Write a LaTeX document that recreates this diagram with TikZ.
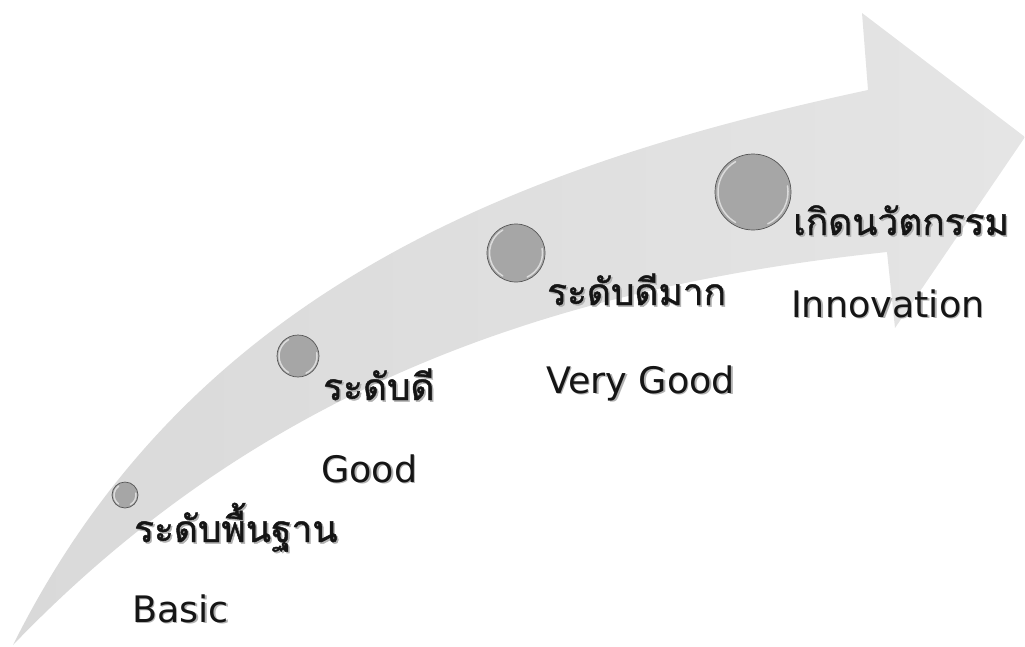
\documentclass[tikz,border=0pt]{standalone}
\usepackage{fontspec}
\setmainfont{DejaVu Sans}
\newfontfamily\thaifont[Script=Thai,FakeBold=1.2]{Loma}
\usetikzlibrary{calc}
\definecolor{arrowL}{HTML}{D9D9D9}
\definecolor{arrowR}{HTML}{E5E5E5}
\definecolor{ballfill}{HTML}{A6A6A6}
\definecolor{ballline}{HTML}{555555}
\definecolor{txt}{HTML}{151515}
\newcommand\shd[1]{\makebox[0pt][l]{\hspace*{1.6pt}\raisebox{-1.6pt}{\textcolor{black!30}{#1}}}#1}
\tikzset{
  ballnode/.style={circle, fill=ballfill, draw=ballline, line width=0.7pt, inner sep=0pt, minimum size=#1},
  rim/.style={white, opacity=0.6, line width=1.5pt, line cap=round},
  thlabel/.style={anchor=base west, inner sep=0pt, text=txt, font=\thaifont\fontsize{37}{42}\selectfont},
  enlabel/.style={anchor=base west, inner sep=0pt, text=txt, font=\fontsize{36.5}{42}\selectfont},
}
\begin{document}
\begin{tikzpicture}[x=1pt,y=-1pt]
\useasboundingbox (0,0) rectangle (1025,646);
% curved arrow
\coordinate (tail) at (13,645);
\coordinate (uend) at (868,90);
\coordinate (ubarb) at (862,13);
\coordinate (tip) at (1025,137);
\coordinate (lbarb) at (895,328);
\coordinate (lend) at (887,252);
\shade[left color=arrowL, right color=arrowR]
  (tail) .. controls (188,294) and (508,167) .. (uend)
  -- (ubarb) -- (tip) -- (lbarb) -- (lend)
  .. controls (557,287) and (263,385) .. (tail) -- cycle;
% balls
\node[ballnode=26] (b1) at (125,495) {};
\node[ballnode=42] (b2) at (298,356) {};
\node[ballnode=58] (b3) at (516,253) {};
\node[ballnode=76] (b4) at (753,192) {};
\draw[rim] (b1.center) ++(125:11) arc[start angle=125, end angle=235, radius=11];
\draw[rim] (b1.center) ++(-10:11) arc[start angle=-10, end angle=60, radius=11];
\draw[rim] (b2.center) ++(120:19) arc[start angle=120, end angle=240, radius=19];
\draw[rim] (b2.center) ++(-10:19) arc[start angle=-10, end angle=65, radius=19];
\draw[rim] (b3.center) ++(120:26.5) arc[start angle=120, end angle=240, radius=26.5];
\draw[rim] (b3.center) ++(-10:26.5) arc[start angle=-10, end angle=65, radius=26.5];
\draw[rim] (b4.center) ++(120:35) arc[start angle=120, end angle=240, radius=35];
\draw[rim] (b4.center) ++(-10:35) arc[start angle=-10, end angle=65, radius=35];
% labels
\node[thlabel] (t1) at (134,542) {\shd{ระดับพื้นฐาน}};
\node[enlabel] (e1) at (132,622) {\shd{Basic}};
\node[thlabel] (t2) at (323,400) {\shd{ระดับดี}};
\node[enlabel] (e2) at (321,482) {\shd{Good}};
\node[thlabel] (t3) at (547,305) {\shd{ระดับดีมาก}};
\node[enlabel] (e3) at (546,393) {\shd{Very Good}};
\node[thlabel] (t4) at (793,235) {\shd{เกิดนวัตกรรม}};
\node[enlabel] (e4) at (791,317) {\shd{Innovation}};
\end{tikzpicture}
\end{document}
